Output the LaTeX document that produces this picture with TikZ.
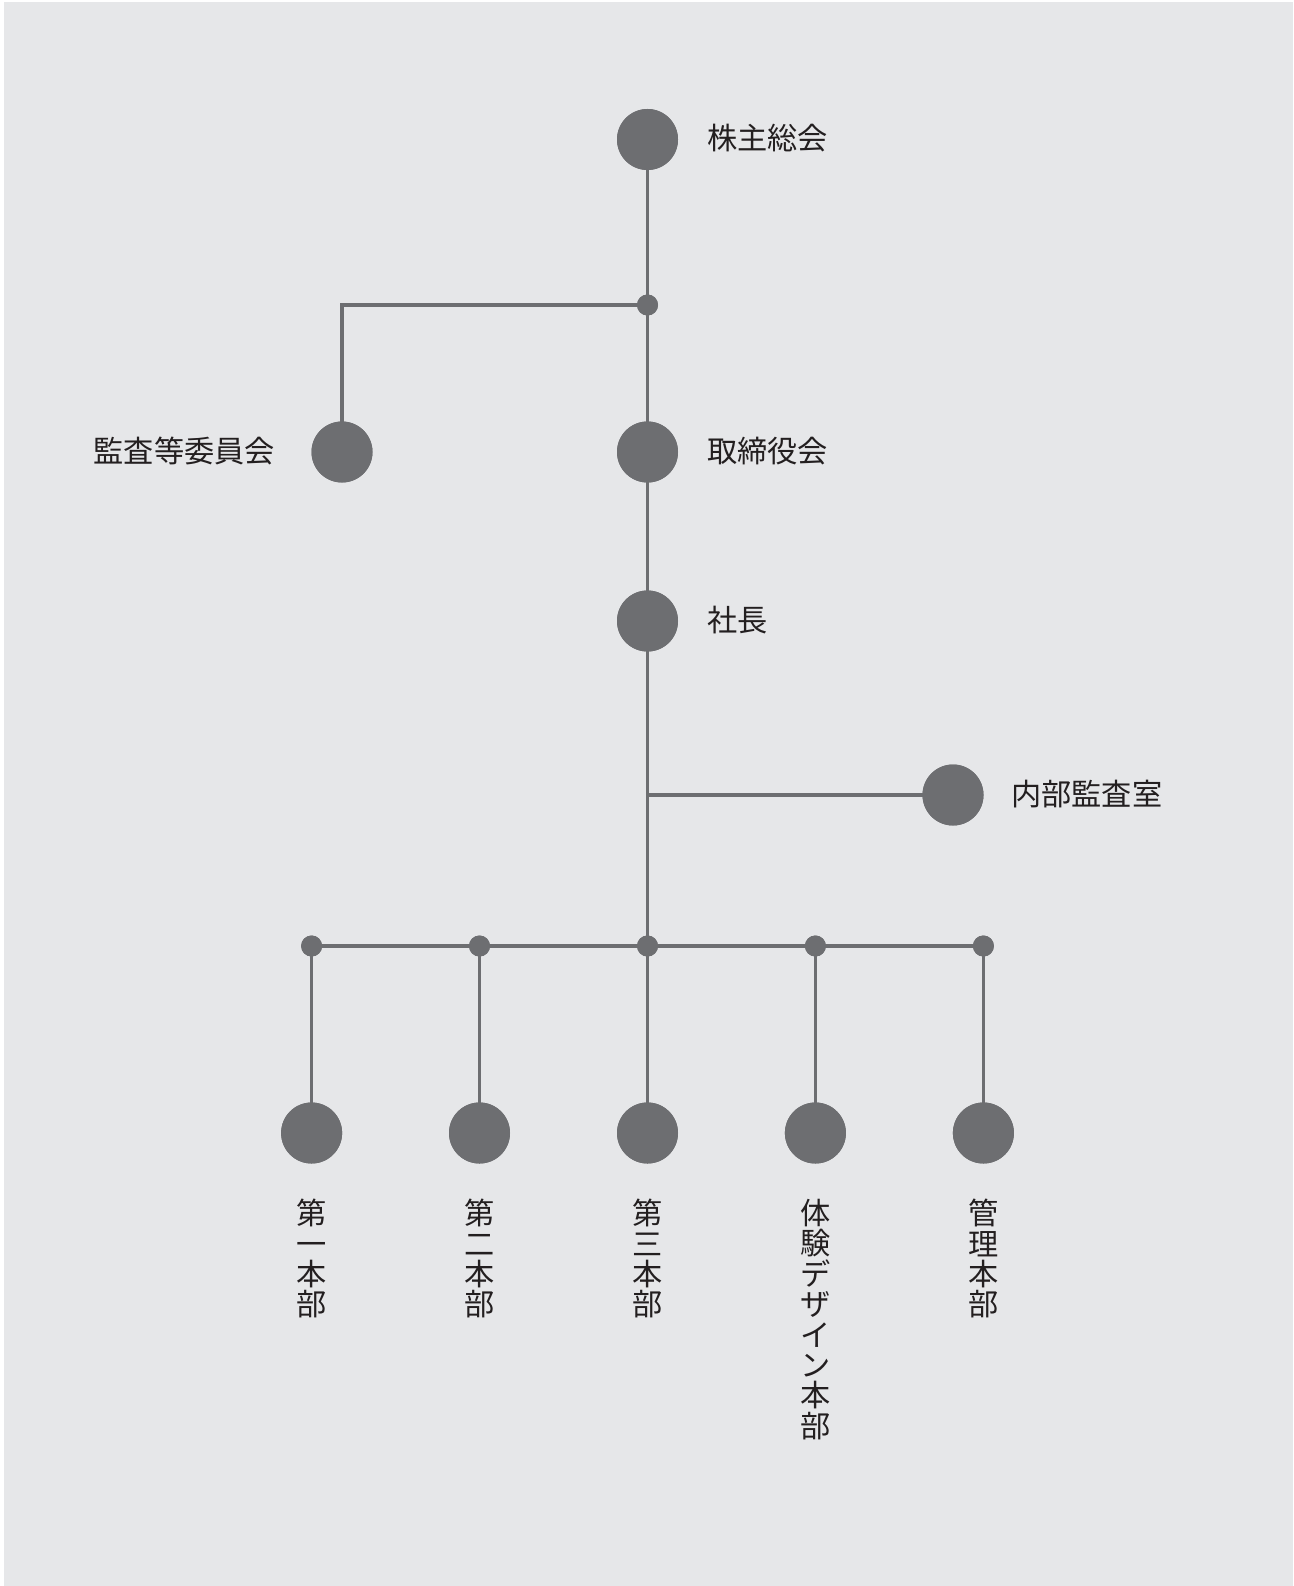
\documentclass[tikz,border=0pt]{standalone}
\usepackage{fontspec}
\newfontfamily\jpfont{Noto Sans CJK JP}
\definecolor{bgc}{HTML}{E6E7E9}
\definecolor{linec}{HTML}{6D6E71}
\definecolor{txtc}{HTML}{231F20}
\begin{document}
\begin{tikzpicture}[x=1pt,y=-1pt,
  big/.style={circle,fill=linec,minimum size=61pt,inner sep=0pt},
  jdot/.style={circle,fill=linec,minimum size=21pt,inner sep=0pt},
  conn/.style={draw=linec,line width=3.6pt},
  lbl/.style={font=\jpfont\fontsize{30.2}{30.4}\selectfont,text=txtc,inner sep=0pt},
  vlbl/.style={lbl,align=center,anchor=north}]
\useasboundingbox (0,0) rectangle (1293,1586);
\fill[white] (0,0) rectangle (1293,1586);
\fill[bgc] (4,2) rectangle (1293,1586);
% nodes
\node[big] (sh) at (647.5,139.5) {};
\node[jdot] (j1) at (647.5,305) {};
\coordinate (c1) at (342,305);
\node[big] (audit) at (342,452) {};
\node[big] (board) at (647.5,452) {};
\node[big] (pres) at (647.5,621) {};
\coordinate (c2) at (647.5,795);
\node[big] (ia) at (953,795) {};
\node[jdot] (b3) at (647.5,946) {};
\node[jdot] (b1) at (311.6,946) {};
\node[jdot] (b2) at (479.5,946) {};
\node[jdot] (b4) at (815.4,946) {};
\node[jdot] (b5) at (983.4,946) {};
\node[big] (d1) at (311.6,1133) {};
\node[big] (d2) at (479.5,1133) {};
\node[big] (d3) at (647.5,1133) {};
\node[big] (d4) at (815.4,1133) {};
\node[big] (d5) at (983.4,1133) {};
% connectors
\draw[conn] (sh.center) -- (j1.center) -- (board.center);
\draw[conn] (j1.center) -- (c1) -- (audit.center);
\draw[conn] (board.center) -- (pres.center) -- (b3.center);
\draw[conn] (c2) -- (ia.center);
\draw[conn] (b1.center) -- (b5.center);
\foreach \i in {1,...,5} { \draw[conn] (b\i.center) -- (d\i.center); }
% redraw circles on top
\foreach \n in {sh,audit,board,pres,ia,d1,d2,d3,d4,d5} { \fill[linec] (\n) circle (30.5pt); }
\foreach \n in {j1,b1,b2,b3,b4,b5} { \fill[linec] (\n) circle (10.5pt); }
% labels
\node[lbl,anchor=west] (t1) at (707,138) {株主総会};
\node[lbl,anchor=east] (t2) at (275,451) {監査等委員会};
\node[lbl,anchor=west] (t3) at (707,451) {取締役会};
\node[lbl,anchor=west] (t4) at (707,620) {社長};
\node[lbl,anchor=west] (t5) at (1011,794) {内部監査室};
\node[vlbl] (v1) at (311.6,1199) {第\\一\\本\\部};
\node[vlbl] (v2) at (479.5,1199) {第\\二\\本\\部};
\node[vlbl] (v3) at (647.5,1199) {第\\三\\本\\部};
\node[vlbl] (v4) at (815.4,1199) {体\\験\\デ\\ザ\\イ\\ン\\本\\部};
\node[vlbl] (v5) at (983.4,1199) {管\\理\\本\\部};
\end{tikzpicture}
\end{document}
